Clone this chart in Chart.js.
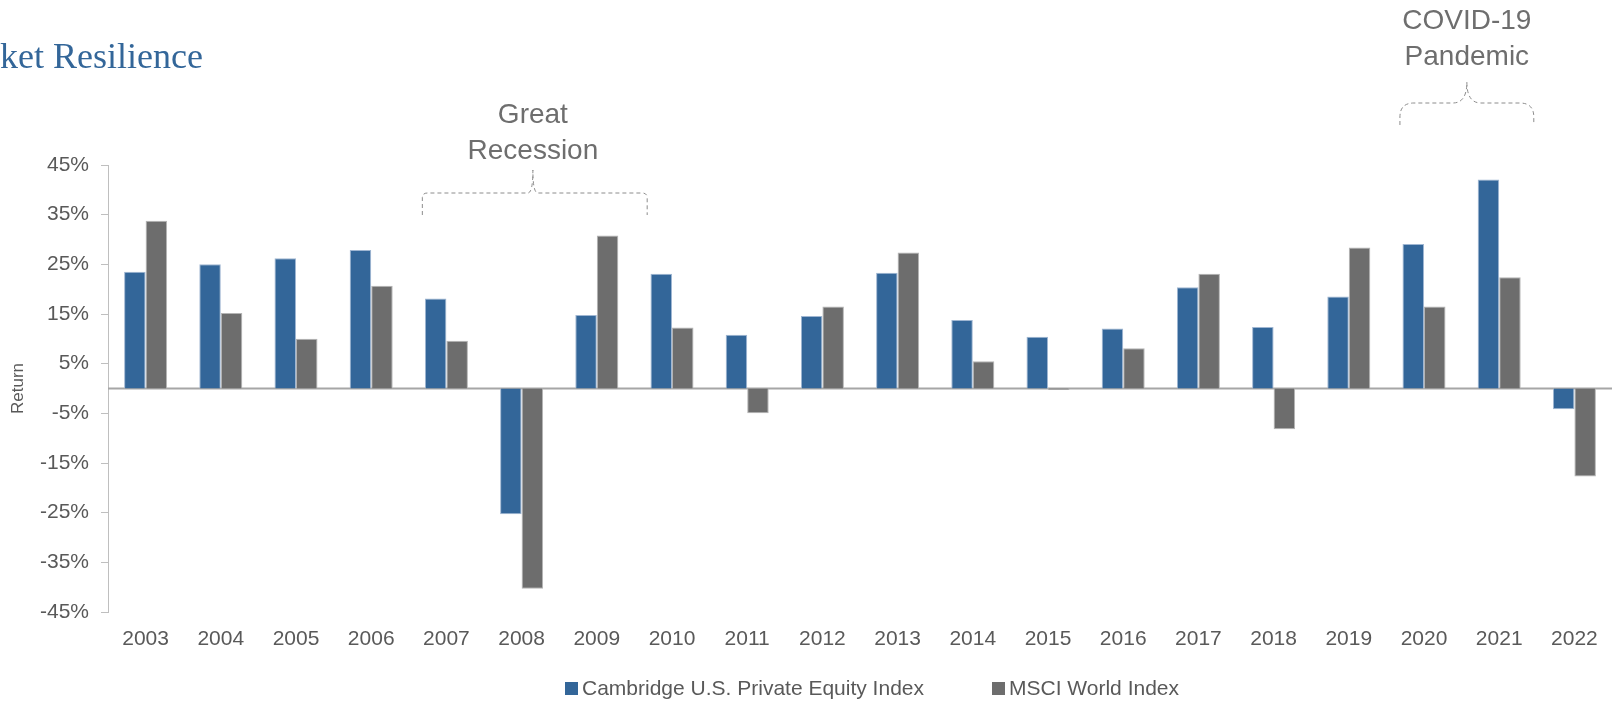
<!DOCTYPE html>
<html lang="en">
<head>
<meta charset="UTF-8">
<title>Private Equity Market Resilience</title>
<script src="https://cdn.jsdelivr.net/npm/chart.js"></script>
<style>
  body { margin: 0; padding: 0; background: #fff; font-family: "Liberation Sans", Arial, sans-serif; }
  .wrap { position: relative; width: 1616px; height: 703px; overflow: hidden; }
  .legend { position: absolute; left: 565px; top: 676px; display: flex; align-items: center; gap: 68px; font-size: 21px; line-height: 24px; color: #595959; }
  .legend-item { display: flex; align-items: center; }
  .legend-box { width: 13px; height: 13px; margin-right: 4px; }
</style>
</head>
<body>
<div class="wrap">
  <canvas id="chart" width="1616" height="703"></canvas>
  <div class="legend" id="legend"></div>
</div>

<script>
const years = ['2003', '2004', '2005', '2006', '2007', '2008', '2009', '2010', '2011', '2012',
               '2013', '2014', '2015', '2016', '2017', '2018', '2019', '2020', '2021', '2022'];
const cambridgeReturns = [23.5, 25.0, 26.2, 27.9, 18.1, -25.3, 14.8, 23.1, 10.8, 14.6,
                          23.3, 13.8, 10.4, 12.1, 20.4, 12.4, 18.5, 29.1, 42.1, -4.2];
const msciReturns = [33.8, 15.2, 10.0, 20.7, 9.6, -40.3, 30.8, 12.3, -5.0, 16.5,
                     27.4, 5.5, -0.3, 8.1, 23.1, -8.2, 28.4, 16.5, 22.4, -17.7];
const seriesNames = ['Cambridge U.S. Private Equity Index', 'MSCI World Index'];
const yMin = -45, yMax = 45, yStep = 10;

const titleText = 'Market Resilience';
// brace annotations, positions in category units on the x scale
const events = [
  { lines: ['Great', 'Recession'], from: 3.68, to: 6.67, mid: 5.15, textY: [123, 159], tip: 170, bar: 193, end: 215, r: 5 },
  { lines: ['COVID-19', 'Pandemic'], from: 16.68, to: 18.46, mid: 17.57, textY: [29, 65], tip: 82, bar: 103, end: 125, r: 14 }
];

const blue = '#336699';
const gray = '#6d6d6d';
const fontFamily = '"Liberation Sans", Arial, sans-serif';

const zeroLine = {
  id: 'zeroLine',
  beforeDatasetsDraw(chart) {
    const { ctx, chartArea, scales: { y } } = chart;
    const py = y.getPixelForValue(0);
    ctx.save();
    ctx.strokeStyle = '#a6a6a6';
    ctx.lineWidth = 2;
    ctx.beginPath();
    ctx.moveTo(chartArea.left, py);
    ctx.lineTo(chartArea.right, py);
    ctx.stroke();
    ctx.restore();
  }
};

const braces = {
  id: 'braces',
  afterDraw(chart) {
    const { ctx, scales: { x } } = chart;
    ctx.save();
    // title, cut at left edge like the slide
    ctx.font = '36px "Liberation Serif", "Times New Roman", serif';
    ctx.fillStyle = '#336699';
    ctx.textBaseline = 'alphabetic';
    ctx.fillText(titleText, -ctx.measureText('Mar').width, 68);

    events.forEach(ev => {
      const x1 = x.getPixelForValue(ev.from);
      const x2 = x.getPixelForValue(ev.to);
      const xm = x.getPixelForValue(ev.mid);
      const r = ev.r;
      ctx.strokeStyle = '#8c8c8c';
      ctx.lineWidth = 1;
      ctx.setLineDash([4, 3]);
      ctx.beginPath();
      ctx.moveTo(x1, ev.end);
      ctx.lineTo(x1, ev.bar + r);
      ctx.quadraticCurveTo(x1, ev.bar, x1 + r, ev.bar);
      ctx.lineTo(xm - r, ev.bar);
      ctx.quadraticCurveTo(xm, ev.bar, xm, ev.tip);
      ctx.quadraticCurveTo(xm, ev.bar, xm + r, ev.bar);
      ctx.lineTo(x2 - r, ev.bar);
      ctx.quadraticCurveTo(x2, ev.bar, x2, ev.bar + r);
      ctx.lineTo(x2, ev.end);
      ctx.stroke();
      ctx.setLineDash([]);

      ctx.font = '28px ' + fontFamily;
      ctx.fillStyle = '#6e6e6e';
      ctx.textAlign = 'center';
      ev.lines.forEach((t, i) => ctx.fillText(t, xm, ev.textY[i]));
    });
    ctx.restore();
  }
};

const chart = new Chart(document.getElementById('chart'), {
  type: 'bar',
  data: {
    labels: years,
    datasets: [
      { label: seriesNames[0], data: cambridgeReturns, backgroundColor: blue, borderColor: '#9fb6d2', borderWidth: 1 },
      { label: seriesNames[1], data: msciReturns, backgroundColor: gray, borderColor: '#b4b4b4', borderWidth: 1 }
    ]
  },
  options: {
    responsive: false,
    animation: false,
    categoryPercentage: 0.572,
    barPercentage: 1.0,
    layout: { padding: { top: 165, right: 4, left: 0, bottom: 0 } },
    plugins: {
      legend: { display: false },
      tooltip: { enabled: false }
    },
    scales: {
      x: {
        grid: { display: false, drawTicks: false },
        border: { display: false },
        ticks: { color: '#595959', font: { size: 21, family: fontFamily }, padding: 15 },
        afterFit(scale) { scale.height = 91; }
      },
      y: {
        min: yMin,
        max: yMax,
        ticks: {
          stepSize: yStep,
          color: '#595959',
          padding: 12,
          font: { size: 21, family: fontFamily },
          callback: v => v + '%'
        },
        grid: { drawOnChartArea: false, tickLength: 7, tickColor: '#bfbfbf' },
        border: { color: '#bfbfbf', width: 1 },
        title: {
          display: true,
          text: 'Return',
          color: '#595959',
          font: { size: 17, family: fontFamily },
          padding: { top: 8, bottom: 0 }
        },
        afterFit(scale) { scale.width = 108; }
      }
    }
  },
  plugins: [zeroLine, braces]
});

// html legend built from the chart's own legend items
const legendEl = document.getElementById('legend');
chart.options.plugins.legend.labels.generateLabels(chart).forEach(item => {
  const el = document.createElement('div');
  el.className = 'legend-item';
  const box = document.createElement('span');
  box.className = 'legend-box';
  box.style.background = item.fillStyle;
  const txt = document.createElement('span');
  txt.textContent = item.text;
  el.appendChild(box);
  el.appendChild(txt);
  legendEl.appendChild(el);
});
</script>
</body>
</html>
